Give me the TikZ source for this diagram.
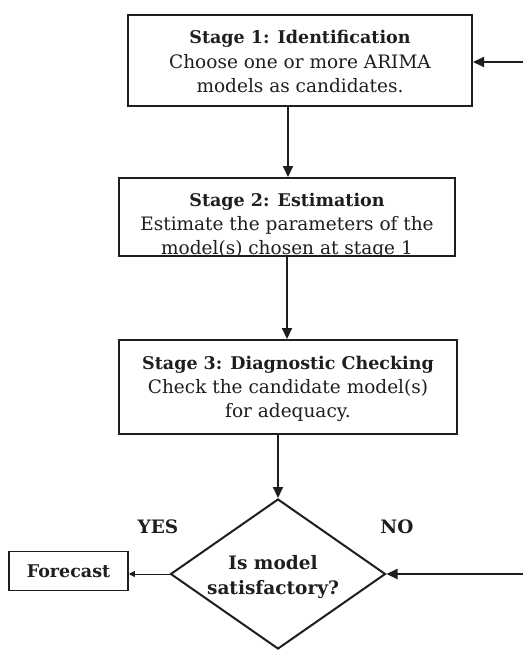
\documentclass[tikz,border=0pt]{standalone}
\usepackage{fontspec}
\setmainfont{DejaVu Serif}
\usetikzlibrary{shapes.geometric,arrows.meta}
\definecolor{ink}{HTML}{1E1E1E}
\tikzset{
  stagebox/.style={draw=ink, line width=2pt, rectangle, inner sep=0pt},
  stagetext/.style={align=center, text=ink, font=\fontsize{18.5}{24}\selectfont},
  flow/.style={draw=ink, line width=2pt, -{Triangle[length=11pt,width=10pt]}},
  thinflow/.style={draw=ink, line width=0.9pt, -{Triangle[length=6pt,width=6pt]}},
  decision/.style={draw=ink, line width=2pt, diamond, inner sep=0pt, minimum width=215pt, minimum height=150pt, aspect=1.43},
  lbl/.style={text=ink, font=\fontsize{18.5}{22}\selectfont\bfseries}
}
\newcommand{\hdtext}[1]{{\fontsize{17.5}{24}\selectfont\bfseries #1}}
\begin{document}
\begin{tikzpicture}[x=1pt, y=-1pt]
\useasboundingbox[fill=white] (0,0) rectangle (523,650);
% Stage 1
\node[stagebox, minimum width=344pt, minimum height=91pt] (s1) at (300,60.5) {};
\node[stagetext, font=\fontsize{18.5}{24.5}\selectfont] (t1) at (300,61.5) {\hdtext{Stage 1: Identification}\\Choose one or more ARIMA\\models as candidates.};
% Stage 2
\node[stagebox, minimum width=336pt, minimum height=78pt] (s2) at (287,217) {};
\begin{scope}
\clip ([shift={(1pt,-1pt)}]s2.north west) rectangle ([shift={(-1pt,1pt)}]s2.south east);
\node[stagetext] (t2) at (287,226) {\hdtext{Stage 2: Estimation}\\Estimate the parameters of the\\model(s) chosen at stage 1};
\end{scope}
% Stage 3
\node[stagebox, minimum width=338pt, minimum height=94pt] (s3) at (288,387) {};
\node[stagetext] (t3) at (288,388.5) {\hdtext{Stage 3: Diagnostic Checking}\\Check the candidate model(s)\\for adequacy.};
% Decision
\node[decision] (d) at (278,574) {};
\node[lbl, align=center, font=\fontsize{18.5}{25}\selectfont\bfseries] (dt) at (273,577) {Is model\\satisfactory?};
% Forecast
\node[stagebox, line width=1.6pt, minimum width=119pt, minimum height=39pt, font=\fontsize{17.5}{20}\selectfont\bfseries, text=ink] (fc) at (68.5,571) {Forecast};
% labels
\node[lbl] (yes) at (158,527) {YES};
\node[lbl] (no) at (397,527) {NO};
% feedback free ends
\coordinate (r1) at (523,62);
\coordinate (r2) at (523,574);
% connectors
\draw[flow] (s1.south -| 288,0) -- (s2.north -| 288,0);
\draw[flow] (s2.south -| 287,0) -- (s3.north -| 287,0);
\draw[flow] (s3.south -| d.north) -- (d.north);
\draw[flow] (r1) -- (s1.east |- r1);
\draw[flow] (r2) -- (d.east);
\draw[thinflow] (d.west) -- (fc.east |- d.west);
\end{tikzpicture}
\end{document}
